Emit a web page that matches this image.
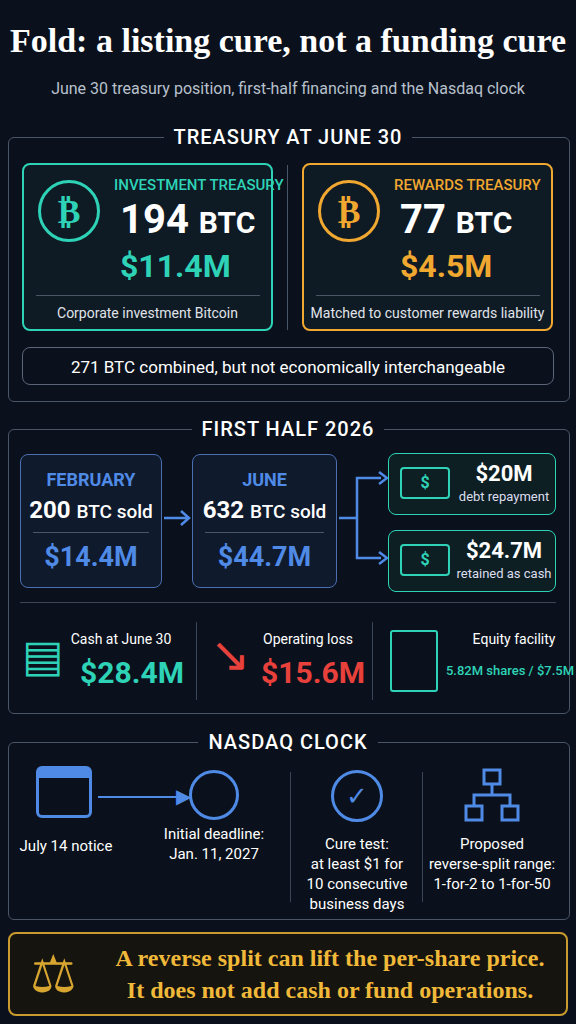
<!DOCTYPE html>
<html><head><meta charset="utf-8">
<script src="https://cdn.jsdelivr.net/npm/chart.js@4"></script>
<style>
body{margin:0;width:576px;height:1024px;background:#0a111c;font-family:"Roboto Condensed","Roboto",sans-serif;color:#fff;overflow:hidden;position:relative}
.a{position:absolute}
.sec{position:absolute;left:8px;width:560px;border:1px solid #4a5566;border-radius:6px}
.st{position:absolute;left:0;width:100%;text-align:center;font:500 20px Roboto;letter-spacing:1px}
.st span{background:#0a111c;padding:0 10px}
.card{position:absolute;border-radius:8px;box-sizing:border-box}
.c{text-align:center}
.coin{position:absolute;border-radius:50%;border:3px solid;box-sizing:border-box;text-align:center;font:bold 34px "DejaVu Sans";}
</style></head><body>
<div class="a c" style="top:22px;width:576px;font:bold 34px 'Liberation Serif';">Fold: a listing cure, not a funding cure</div>
<div class="a c" style="top:79px;width:576px;font:16px Roboto;color:#b8c0cc">June 30 treasury position, first-half financing and the Nasdaq clock</div>

<div class="sec" style="top:137px;height:263px"></div>
<div class="st" style="top:125px"><span>TREASURY AT JUNE 30</span></div>
<div id="tre"></div>
<div class="card c" style="left:22px;top:347px;width:532px;height:38px;border:1px solid #5a6577;font:17px Roboto;line-height:38px" id="comb"></div>

<div class="sec" style="top:429px;height:283px"></div>
<div class="st" style="top:417px"><span>FIRST HALF 2026</span></div>
<div id="half"></div>

<div class="sec" style="top:742px;height:176px"></div>
<div class="st" style="top:730px"><span>NASDAQ CLOCK</span></div>
<div id="clock"></div>

<div class="card" style="left:8px;top:932px;width:560px;height:84px;border:2px solid #c99a2e;background:#15140f"></div>
<div class="a" style="left:30px;top:944px;font-size:52px;color:#d8a531">⚖</div>
<div class="a c" style="left:100px;top:942px;width:460px;font:bold 24px 'Liberation Serif';color:#f0b93a;line-height:32px">A reverse split can lift the per-share price.<br>It does not add cash or fund operations.</div>

<script>
// treasury at June 30
const treasuryLabels = ['INVESTMENT TREASURY', 'REWARDS TREASURY'];
const treasuryBtc = [194, 77];
const treasuryUsd = [11.4, 4.5];
const treasuryNotes = ['Corporate investment Bitcoin', 'Matched to customer rewards liability'];
const treasuryColors = ['#2ed3b7', '#f0a830'];

// first half financing
const saleMonths = ['FEBRUARY', 'JUNE'];
const saleBtc = [200, 632];
const saleUsd = [14.4, 44.7];
const useLabels = ['debt repayment', 'retained as cash'];
const useUsd = [20, 24.7];
const statLabels = ['Cash at June 30', 'Operating loss', 'Equity facility'];
const statValues = ['$28.4M', '$15.6M', '5.82M shares / $7.5M'];

// nasdaq clock
const clockText = ['July 14 notice', 'Initial deadline:<br>Jan. 11, 2027', 'Cure test:<br>at least $1 for<br>10 consecutive<br>business days', 'Proposed<br>reverse-split range:<br>1-for-2 to 1-for-50'];

let h = '';
treasuryLabels.forEach((l, i) => {
  const x = 22 + i * 280, c = treasuryColors[i];
  h += `<div class="card" style="left:${x}px;top:163px;width:251px;height:168px;border:2px solid ${c};background:#0e1a24"></div>
  <div class="coin" style="left:${x+16}px;top:180px;width:62px;height:62px;line-height:56px;border-color:${c};color:${c}">₿</div>
  <div class="a" style="left:${x+92}px;top:176px;font:500 15px Roboto;color:${c}">${l}</div>
  <div class="a" style="left:${x+98}px;top:196px;font:bold 40px Roboto">${treasuryBtc[i]} <span style="font-size:30px">BTC</span></div>
  <div class="a" style="left:${x+98}px;top:247px;font:bold 32px Roboto;color:${c}">$${treasuryUsd[i]}M</div>
  <div class="a" style="left:${x+14}px;top:295px;width:224px;border-top:1px solid #4a5566"></div>
  <div class="a c" style="left:${x}px;top:305px;width:251px;font:14px Roboto;color:#e0e4ea">${treasuryNotes[i]}</div>`;
});
document.getElementById('tre').innerHTML = h + '<div class="a" style="left:287px;top:165px;height:165px;border-left:1px solid #4a5566"></div>';
document.getElementById('comb').textContent = (treasuryBtc[0] + treasuryBtc[1]) + ' BTC combined, but not economically interchangeable';

h = '';
saleMonths.forEach((m, i) => {
  const x = [20, 192][i];
  h += `<div class="card c" style="left:${x}px;top:454px;width:${[142,145][i]}px;height:134px;border:1.5px solid #4b6fb0;background:#0f1a2d">
  <div style="margin-top:14px;font:bold 18px Roboto;color:#4f8be6">${m}</div>
  <div style="margin-top:6px;font:bold 24px Roboto">${saleBtc[i]} <span style="font-size:19px;font-weight:500">BTC sold</span></div>
  <div style="margin:8px 12px 0;border-top:1px solid #4a5566"></div>
  <div style="margin-top:8px;font:bold 27px Roboto;color:#4f8be6">$${saleUsd[i]}M</div></div>`;
});
h += `<svg class="a" style="left:162px;top:508px" width="30" height="20"><path d="M2 10H26M19 3L27 10L19 17" stroke="#4f8be6" stroke-width="2.5" fill="none"/></svg>
<svg class="a" style="left:337px;top:470px" width="52" height="110"><path d="M2 48H20V8H44M20 48V88H44" stroke="#4f8be6" stroke-width="2.5" fill="none"/><path d="M42 2L50 8L42 14M42 82L50 88L42 94" stroke="#4f8be6" stroke-width="2.5" fill="none"/></svg>`;
useLabels.forEach((l, i) => {
  const y = 453 + i * 77;
  h += `<div class="card" style="left:388px;top:${y}px;width:168px;height:62px;border:1.5px solid #2ed3b7;background:#0e1f24"></div>
  <div class="a c" style="left:400px;top:${y+14}px;width:50px;height:32px;border:2px solid #2ed3b7;border-radius:4px;box-sizing:border-box;color:#2ed3b7;font:bold 16px Roboto;line-height:28px">$</div>
  <div class="a c" style="left:455px;top:${y+8}px;width:98px;font:bold 22px Roboto">$${useUsd[i]}M</div>
  <div class="a c" style="left:455px;top:${y+36}px;width:98px;font:13px Roboto;color:#dde">${l}</div>`;
});
h += `<div class="a" style="left:20px;top:602px;width:536px;border-top:1px solid #3a4556"></div>`;
const lc = [121, 308, 514], vc = [132, 313, 510], sc = ['#2ed3b7', '#e8413c', '#2ed3b7'], sf = ['bold 30px', 'bold 30px', '500 13px'];
statLabels.forEach((l, i) => {
  h += `<div class="a c" style="left:${lc[i]-70}px;top:631px;width:140px;font:14px Roboto">${l}</div>
  <div class="a c" style="left:${vc[i]-75}px;top:${i==2?663:655}px;width:150px;font:${sf[i]} Roboto;color:${sc[i]}">${statValues[i]}</div>`;
});
h += `<div class="a" style="left:22px;top:630px;font-size:44px;color:#2ed3b7">▤</div>
<div class="a" style="left:210px;top:626px;font-size:48px;color:#e8413c">↘</div>
<div class="a" style="left:390px;top:630px;width:44px;height:58px;border:2px solid #2ed3b7;border-radius:3px"></div>
<div class="a" style="left:196px;top:622px;height:78px;border-left:1px solid #3a4556"></div>
<div class="a" style="left:372px;top:622px;height:78px;border-left:1px solid #3a4556"></div>`;
document.getElementById('half').innerHTML = h;

h = '';
const cx = [66, 214, 357, 492], ct = [836, 824, 834, 834];
clockText.forEach((t, i) => {
  h += `<div class="a c" style="left:${cx[i]-80}px;top:${ct[i]}px;width:160px;font:15px Roboto;line-height:20px">${t}</div>`;
});
h += `<div class="a" style="left:36px;top:766px;width:56px;height:52px;border:3px solid #4f8be6;border-radius:6px;box-sizing:border-box;border-top-width:12px"></div>
<div class="a" style="left:98px;top:796px;width:86px;border-top:2.5px solid #4f8be6"></div><div class="a" style="left:176px;top:784px;color:#4f8be6;font-size:20px">▶</div>
<div class="a" style="left:189px;top:770px;width:50px;height:50px;border:3px solid #4f8be6;border-radius:50%;box-sizing:border-box"></div>
<div class="a c" style="left:331px;top:770px;width:52px;height:52px;border:3px solid #4f8be6;border-radius:50%;box-sizing:border-box;color:#4f8be6;font:bold 26px 'DejaVu Sans';line-height:46px">✓</div>
<svg class="a" style="left:464px;top:768px" width="58" height="56"><rect x="20" y="2" width="16" height="14" stroke="#4f8be6" stroke-width="3" fill="none"/><rect x="2" y="38" width="16" height="14" stroke="#4f8be6" stroke-width="3" fill="none"/><rect x="38" y="38" width="16" height="14" stroke="#4f8be6" stroke-width="3" fill="none"/><path d="M28 16V27M10 38V27H46V38" stroke="#4f8be6" stroke-width="3" fill="none"/></svg>
<div class="a" style="left:290px;top:772px;height:130px;border-left:1px solid #3a4556"></div>
<div class="a" style="left:422px;top:772px;height:130px;border-left:1px solid #3a4556"></div>`;
document.getElementById('clock').innerHTML = h;
</script>
</body></html>
